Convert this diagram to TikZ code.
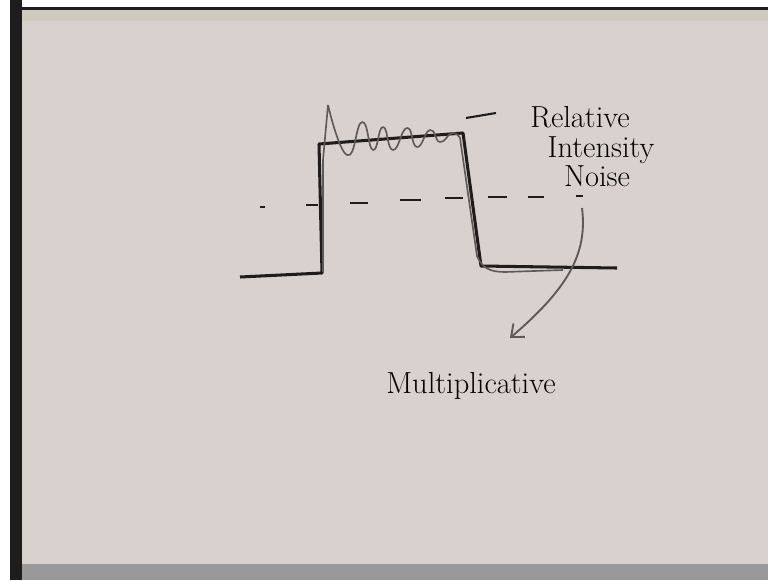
\documentclass[tikz,border=0pt]{standalone}
\usetikzlibrary{arrows.meta,positioning}
\definecolor{paper}{HTML}{D8D1CE}
\definecolor{strip}{HTML}{CFCBBC}
\definecolor{ink}{HTML}{1E1C1C}
\definecolor{pencil}{HTML}{5E5858}
\begin{document}
\begin{tikzpicture}[x=0.03cm,y=-0.03cm,>={Straight Barb[length=9pt,width=15pt]},
  pulse/.style={ink,line width=2.6pt,line join=round},
  noisy/.style={pencil,line width=1.4pt,line join=round},
  stroke/.style={ink,line width=2pt},
  lbl/.style={font=\fontsize{26}{28}\selectfont,inner sep=0pt,anchor=base}]
  % sheet of paper in front of the camera
  \fill[white] (0,0) rectangle (768,580);
  \fill[ink] (10,0) rectangle (22,580);
  \fill[ink] (22,7) rectangle (768,10);
  \fill[strip] (22,10) rectangle (768,21);
  \fill[paper] (22,21) rectangle (768,564);
  \fill[gray!80] (22,564) rectangle (768,580);
  % ideal pulse
  \draw[pulse] (240,277) -- (322,273) -- (319,144) -- (463,133) -- (481,266) -- (617,268);
  % pulse with intensity noise
  \draw[noisy] (323,272) -- (323,160) -- (328,105)
    plot[smooth,tension=0.9] coordinates {(328,105) (347,155) (362,122) (373,150) (383,127)
      (393,150) (407,128) (417,147) (430,130) (440,142) (452,133) (460,138)}
    -- (477,256) .. controls (482,268) and (490,272) .. (505,272) -- (563,270);
  % threshold level
  \foreach \a/\b/\y in {260/265/207,306/318/205,350/368/203,400/421/200,445/463/198,488/507/197,528/544/197,576/583/196}
    \draw[stroke] (\a,\y) -- (\b,\y);
  % labels
  \draw[stroke,line width=1.8pt] (466,118) -- (496,113);
  \node[lbl] (rel) at (580,127) {Relative};
  \node[lbl] (inten) at (601,157) {Intensity};
  \node[lbl] (noise) at (597,186) {Noise};
  \node[lbl] (mult) at (471,393) {Multiplicative};
  \coordinate (src) at (582,208);
  \coordinate (tip) at (510,338);
  \draw[->,pencil,line width=1.6pt] (src) .. controls (588,255) and (566,290) .. (tip);
\end{tikzpicture}
\end{document}
